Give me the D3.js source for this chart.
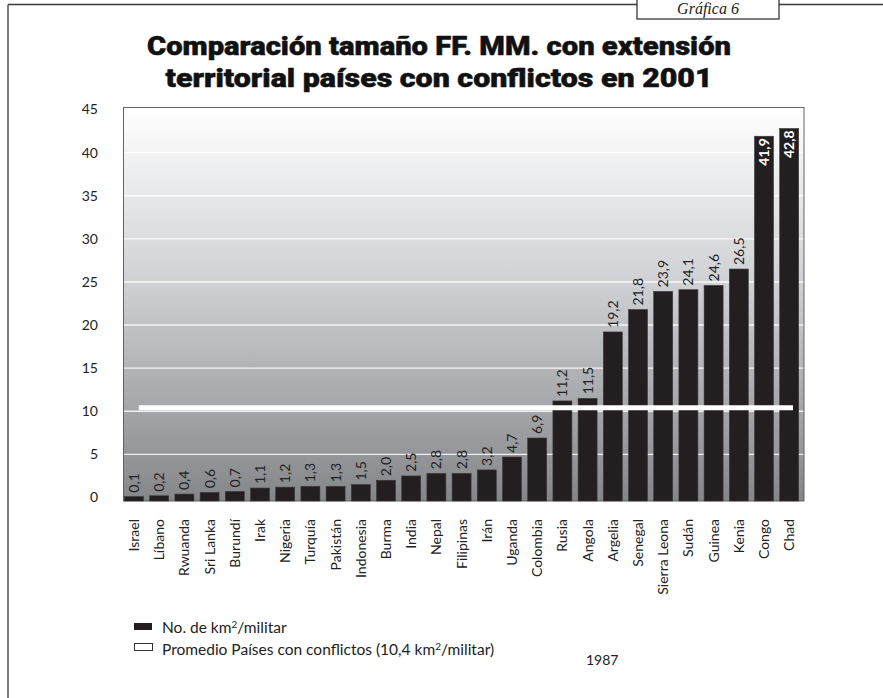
<!DOCTYPE html>
<html>
<head>
<meta charset="utf-8">
<script src="https://cdn.jsdelivr.net/npm/d3@7/dist/d3.min.js"></script>
<style>
  html, body { margin: 0; padding: 0; background: #ffffff; }
  svg { display: block; }
</style>
</head>
<body>
<svg id="chart" width="883" height="698"></svg>
<script>
// Countries, ordered from smallest to largest km² per soldier
const categories = ["Israel", "Líbano", "Rwuanda", "Sri Lanka", "Burundí", "Irak", "Nigeria", "Turquía",
  "Pakistán", "Indonesia", "Burma", "India", "Nepal", "Filipinas", "Irán", "Uganda", "Colombia",
  "Rusia", "Angola", "Argelia", "Senegal", "Sierra Leona", "Sudán", "Guinea", "Kenia", "Congo", "Chad"];

// km² of territory per member of the armed forces
const values = [0.1, 0.2, 0.4, 0.6, 0.7, 1.1, 1.2, 1.3, 1.3, 1.5, 2.0, 2.5, 2.8, 2.8, 3.2, 4.7, 6.9,
  11.2, 11.5, 19.2, 21.8, 23.9, 24.1, 24.6, 26.5, 41.9, 42.8];

// Average for countries in conflict
const average = 10.4;

// Y axis ticks
const yTicks = [0, 5, 10, 15, 20, 25, 30, 35, 40, 45];

// Values printed inside the bar instead of above it
const insideLabels = ["Congo", "Chad"];

const es = d3.formatLocale({ decimal: ",", thousands: ".", grouping: [3], currency: ["", ""] });
const fmt = es.format(".1f");

const svg = d3.select("#chart");
const FONT = "Lato, 'Open Sans', 'DejaVu Sans', sans-serif";

// ---- frame around the page -------------------------------------------------
svg.append("line").attr("x1", 8).attr("x2", 883).attr("y1", 4.5).attr("y2", 4.5)
  .attr("stroke", "#3a3a3a").attr("stroke-width", 1.3);
svg.append("line").attr("x1", 8).attr("x2", 8).attr("y1", 4.5).attr("y2", 698)
  .attr("stroke", "#3a3a3a").attr("stroke-width", 1.3);
svg.append("rect").attr("x", 637).attr("y", -5).attr("width", 142).attr("height", 24)
  .attr("fill", "#ffffff").attr("stroke", "#3a3a3a").attr("stroke-width", 1.3);
svg.append("text").attr("x", 708).attr("y", 14)
  .attr("text-anchor", "middle")
  .attr("font-family", "'Liberation Serif', 'DejaVu Serif', serif")
  .attr("font-style", "italic").attr("font-size", 16).attr("fill", "#222")
  .text("Gráfica 6");

// ---- title -----------------------------------------------------------------
const titleLines = [
  { text: "Comparación tamaño FF. MM. con extensión", y: 55, len: 584 },
  { text: "territorial países con conflictos en 2001", y: 87, len: 547 }
];
svg.selectAll("text.title").data(titleLines).join("text")
  .attr("class", "title")
  .attr("x", 439).attr("y", d => d.y)
  .attr("text-anchor", "middle")
  .attr("font-family", "Roboto, Inter, 'DejaVu Sans', sans-serif")
  .attr("font-weight", 900).attr("font-size", 26).attr("fill", "#111")
  .attr("stroke", "#111").attr("stroke-width", 0.5).attr("stroke-linejoin", "round")
  .attr("textLength", d => d.len).attr("lengthAdjust", "spacingAndGlyphs")
  .text(d => d.text);

// ---- plot area -------------------------------------------------------------
const plot = { left: 123.5, right: 804, top: 107.5, bottom: 501 };

const x = d3.scaleBand()
  .domain(categories)
  .range([124.5, 124.5 + categories.length * 25.2 - 6.2])
  .paddingInner(0.246)
  .paddingOuter(0);

const y = d3.scaleLinear().domain([0, 45]).range([497.5, 109.5]);

const defs = svg.append("defs");
const grad = defs.append("linearGradient").attr("id", "bg")
  .attr("x1", 0).attr("x2", 0).attr("y1", 0).attr("y2", 1);
grad.append("stop").attr("offset", "0%").attr("stop-color", "#ffffff");
grad.append("stop").attr("offset", "45%").attr("stop-color", "#cfd0d3");
grad.append("stop").attr("offset", "100%").attr("stop-color", "#85868a");

svg.append("rect")
  .attr("x", plot.left).attr("y", plot.top)
  .attr("width", plot.right - plot.left).attr("height", plot.bottom - plot.top)
  .attr("fill", "url(#bg)");

// horizontal grid lines
svg.append("g").selectAll("line").data(yTicks.filter(t => t > 0)).join("line")
  .attr("x1", plot.left).attr("x2", plot.right)
  .attr("y1", d => y(d)).attr("y2", d => y(d))
  .attr("stroke", "#ffffff").attr("stroke-opacity", 0.85).attr("stroke-width", 1.4);

// plot border
svg.append("rect")
  .attr("x", plot.left).attr("y", plot.top)
  .attr("width", plot.right - plot.left).attr("height", plot.bottom - plot.top)
  .attr("fill", "none").attr("stroke", "#555").attr("stroke-width", 0.9);

// y axis labels
const yAxis = d3.axisLeft(y).tickValues(yTicks).tickSize(0).tickPadding(0).tickFormat(d3.format("d"));
const gy = svg.append("g").attr("transform", "translate(98,0)").call(yAxis);
gy.select(".domain").remove();
gy.selectAll("text")
  .attr("font-family", FONT).attr("font-size", 14).attr("fill", "#222");

// bars, standing on the bottom of the plot area
svg.append("g").selectAll("rect").data(values).join("rect")
  .attr("x", (d, i) => x(categories[i]))
  .attr("y", d => y(d))
  .attr("width", x.bandwidth())
  .attr("height", d => plot.bottom - y(d))
  .attr("fill", "#231f20")
  .attr("stroke", "#3c3a3b").attr("stroke-width", 0.6);

// average line
svg.append("line")
  .attr("x1", x(categories[0]) + x.bandwidth() * 0.75)
  .attr("x2", x(categories[categories.length - 1]) + x.bandwidth() * 0.7)
  .attr("y1", y(average)).attr("y2", y(average))
  .attr("stroke", "#ffffff").attr("stroke-width", 5);

// value labels
svg.append("g").selectAll("text").data(values).join("text")
  .attr("transform", (d, i) => {
    const cx = x(categories[i]) + x.bandwidth() / 2 + 5;
    const inside = insideLabels.includes(categories[i]);
    const yy = inside ? y(d) + 2 : y(d) - 4;
    return `translate(${cx},${yy}) rotate(-90)`;
  })
  .attr("text-anchor", (d, i) => insideLabels.includes(categories[i]) ? "end" : "start")
  .attr("font-family", FONT)
  .attr("font-size", 14)
  .attr("font-weight", (d, i) => insideLabels.includes(categories[i]) ? 700 : 400)
  .attr("fill", (d, i) => insideLabels.includes(categories[i]) ? "#ffffff" : "#222")
  .text(d => fmt(d));

// category labels
svg.append("g").selectAll("text").data(categories).join("text")
  .attr("transform", d => `translate(${x(d) + x.bandwidth() / 2 + 5},519) rotate(-90)`)
  .attr("text-anchor", "end")
  .attr("font-family", FONT).attr("font-size", 14).attr("fill", "#222")
  .text(d => d);

// ---- legend ----------------------------------------------------------------
svg.append("rect").attr("x", 134).attr("y", 623).attr("width", 18).attr("height", 7)
  .attr("fill", "#231f20");
svg.append("rect").attr("x", 134.5).attr("y", 643.5).attr("width", 18).attr("height", 7)
  .attr("fill", "#ffffff").attr("stroke", "#333").attr("stroke-width", 1);

const leg1 = svg.append("text").attr("x", 162).attr("y", 633)
  .attr("font-family", FONT).attr("font-size", 15.5).attr("fill", "#222");
leg1.append("tspan").text("No. de km");
leg1.append("tspan").attr("dy", -5).attr("font-size", 10).text("2");
leg1.append("tspan").attr("dy", 5).text("/militar");

const leg2 = svg.append("text").attr("x", 162).attr("y", 655)
  .attr("font-family", FONT).attr("font-size", 15.5).attr("fill", "#222");
leg2.append("tspan").text("Promedio Países con conflictos (" + fmt(average) + " km");
leg2.append("tspan").attr("dy", -5).attr("font-size", 10).text("2");
leg2.append("tspan").attr("dy", 5).text("/militar)");

svg.append("text").attr("x", 586).attr("y", 665)
  .attr("font-family", FONT).attr("font-size", 14).attr("fill", "#222")
  .text("1987");
</script>
</body>
</html>
